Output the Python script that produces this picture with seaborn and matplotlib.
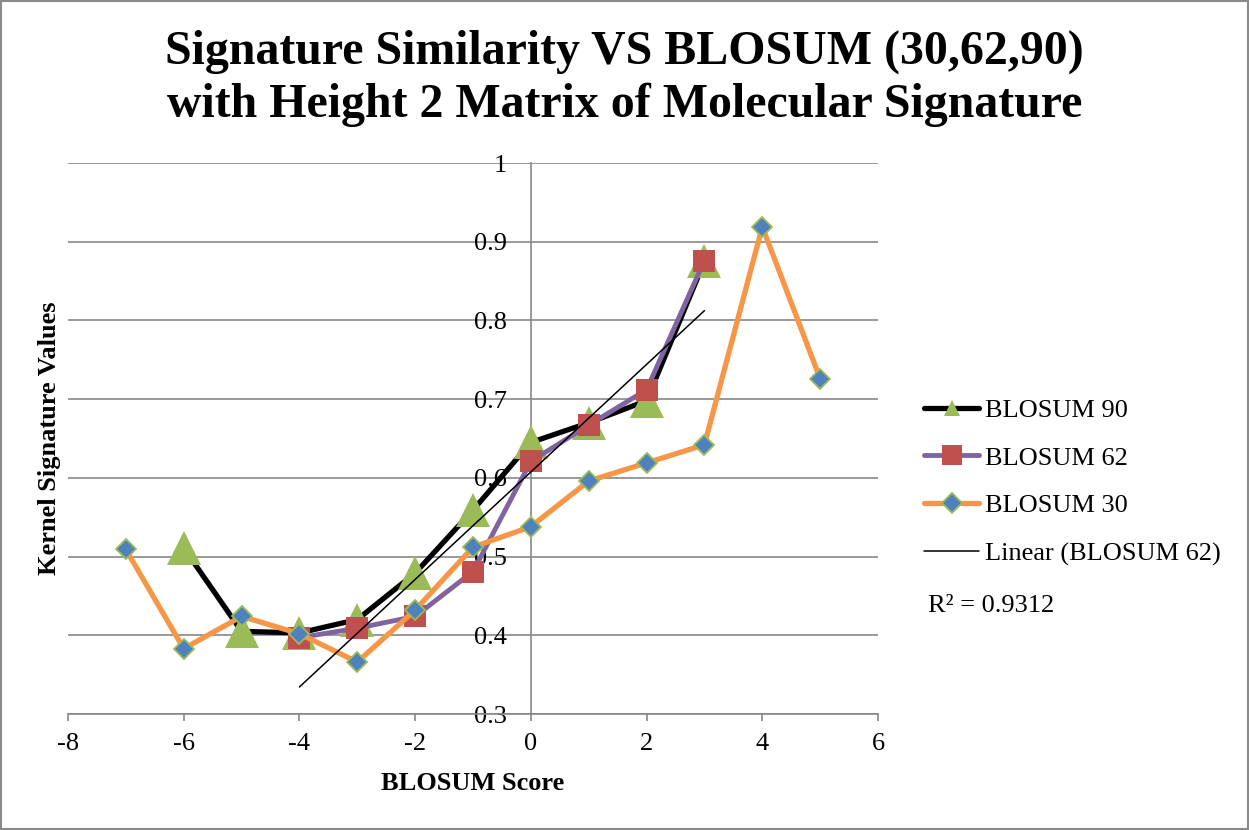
import numpy as np
import pandas as pd
import matplotlib
matplotlib.use("Agg")
import matplotlib.pyplot as plt
from matplotlib.lines import Line2D
from matplotlib.patches import Rectangle
import seaborn as sns

# ---- data ----
x90 = [-6, -5, -4, -3, -2, -1, 0, 1, 2, 3]
y90 = [0.511, 0.405, 0.403, 0.420, 0.479, 0.559, 0.645, 0.670, 0.698, 0.875]

x62 = [-4, -3, -2, -1, 0, 1, 2, 3]
y62 = [0.397, 0.409, 0.424, 0.481, 0.621, 0.667, 0.712, 0.876]

x30 = [-7, -6, -5, -4, -3, -2, -1, 0, 1, 2, 3, 4, 5]
y30 = [0.509, 0.383, 0.424, 0.402, 0.366, 0.432, 0.512, 0.538, 0.596, 0.619, 0.642, 0.919, 0.726]

labels = ["BLOSUM 90", "BLOSUM 62", "BLOSUM 30", "Linear (BLOSUM 62)"]
r2_text = "R² = 0.9312"
title_lines = ["Signature Similarity VS BLOSUM (30,62,90)",
               "with Height 2 Matrix of Molecular Signature"]
xticks = [-8, -6, -4, -2, 0, 2, 4, 6]
yticks = [0.3, 0.4, 0.5, 0.6, 0.7, 0.8, 0.9, 1.0]
ytick_labels = ["0.3", "0.4", "0.5", "0.6", "0.7", "0.8", "0.9", "1"]

# ---- style ----
sns.set_style("white")
plt.rcParams["font.family"] = ["Liberation Serif", "DejaVu Serif"]
plt.rcParams["text.color"] = "black"
plt.rcParams["axes.labelcolor"] = "black"

W, H = 1249, 830
fig = plt.figure(figsize=(W / 100, H / 100), dpi=100)
ax = fig.add_axes([68 / W, 1 - 714 / H, 810 / W, 551 / H])

GREEN = "#9BBB59"
PURPLE = "#8064A2"
RED = "#C0504D"
ORANGE = "#F79646"
BLUE = "#4F81BD"
GRID = "#878787"

# gridlines
for yv in yticks:
    ax.axhline(yv, color=GRID, lw=1.2, zorder=0)

df90 = pd.DataFrame({"x": x90, "y": y90})
df62 = pd.DataFrame({"x": x62, "y": y62})
df30 = pd.DataFrame({"x": x30, "y": y30})

sns.lineplot(data=df90, x="x", y="y", ax=ax, color="black", linewidth=3.8,
             marker="^", markersize=24, markerfacecolor=GREEN,
             markeredgecolor=GREEN, markeredgewidth=0, zorder=3)
sns.lineplot(data=df62, x="x", y="y", ax=ax, color=PURPLE, linewidth=3.5,
             marker="s", markersize=15.5, markerfacecolor=RED,
             markeredgecolor=RED, markeredgewidth=0, zorder=4)
sns.lineplot(data=df30, x="x", y="y", ax=ax, color=ORANGE, linewidth=3.8,
             marker="D", markersize=10, markerfacecolor=BLUE,
             markeredgecolor=GREEN, markeredgewidth=1.3, zorder=5)

# linear trendline for BLOSUM 62
slope, icept = np.polyfit(x62, y62, 1)
xt = np.array([min(x62), max(x62)])
dft = pd.DataFrame({"x": xt, "y": slope * xt + icept})
sns.lineplot(data=dft, x="x", y="y", ax=ax, color="black", linewidth=1.1, zorder=6)

ax.set_xlim(-8, 6)
ax.set_ylim(0.3, 1.0)
ax.set_xticks(xticks)
ax.set_xticklabels([str(t) for t in xticks])
ax.set_yticks(yticks)
ax.set_yticklabels(ytick_labels)
ax.set_xlabel("")
ax.set_ylabel("")

for s in ["top", "right"]:
    ax.spines[s].set_visible(False)
ax.spines["left"].set_position(("data", 0))
ax.spines["left"].set_color(GRID)
ax.spines["left"].set_linewidth(1.2)
ax.spines["bottom"].set_color(GRID)
ax.spines["bottom"].set_linewidth(1.2)
ax.spines["left"].set_zorder(1)

ax.tick_params(axis="x", direction="out", length=5, width=1.2, color=GRID,
               labelsize=19, pad=9, bottom=True, labelcolor="black")
ax.tick_params(axis="y", length=0, labelsize=19, pad=17, left=True, labelcolor="black")
ax.patch.set_alpha(0)

# titles / labels
fig.text(0.5, 1 - 52 / H, title_lines[0], ha="center", va="center",
         fontsize=34.5, fontweight="bold", color="black")
fig.text(0.5, 1 - 105 / H, title_lines[1], ha="center", va="center",
         fontsize=34.5, fontweight="bold", color="black")
fig.text(473 / W, 1 - 783 / H, "BLOSUM Score", ha="center", va="center",
         fontsize=19, fontweight="bold", color="black")
fig.text(50 / W, 1 - 438 / H, "Kernel Signature Values", ha="center", va="center",
         rotation=90, fontsize=19, fontweight="bold", color="black")

# legend
handles = [
    Line2D([], [], color="black", lw=3.8, marker="^", markersize=12,
           markerfacecolor=GREEN, markeredgewidth=0),
    Line2D([], [], color=PURPLE, lw=3.5, marker="s", markersize=14,
           markerfacecolor=RED, markeredgewidth=0),
    Line2D([], [], color=ORANGE, lw=3.8, marker="D", markersize=10,
           markerfacecolor=BLUE, markeredgecolor=GREEN, markeredgewidth=1.3),
    Line2D([], [], color="black", lw=1.1),
]
leg = fig.legend(handles, labels, loc="center left", bbox_to_anchor=(924 / W, 1 - 482 / H),
                 frameon=False, fontsize=19, handlelength=2.1, handletextpad=0.2,
                 labelspacing=0.92, borderpad=0, borderaxespad=0)
for t in leg.get_texts():
    t.set_color("black")
fig.text(928 / W, 1 - 606 / H, r2_text, ha="left", va="center", fontsize=19, color="black")

# chart border
fig.patches.append(Rectangle((0.0008, 0.0012), 0.9984, 0.9976, transform=fig.transFigure,
                             fill=False, edgecolor="#8a8a8a", lw=1.5))

fig.savefig("out.png", dpi=100)
